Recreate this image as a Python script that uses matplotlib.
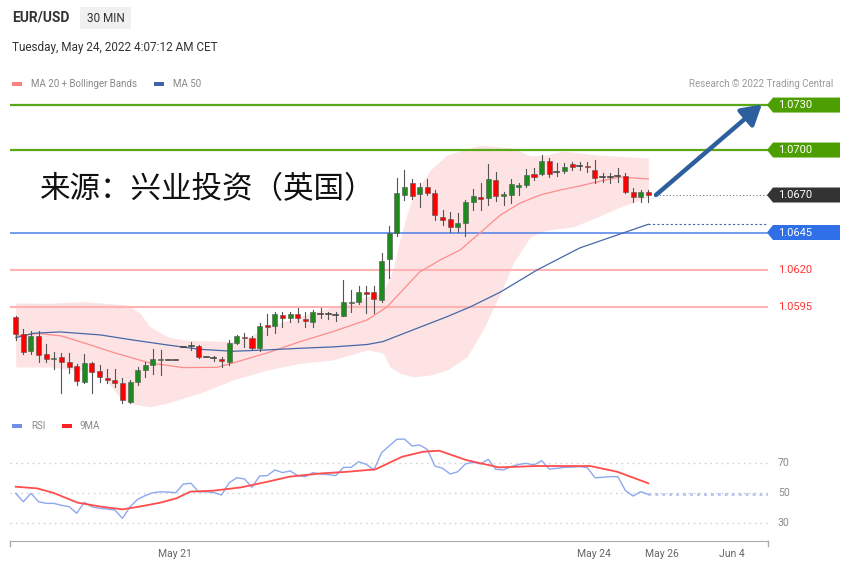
import matplotlib
matplotlib.use('Agg')
import matplotlib.pyplot as plt
from matplotlib.patches import Rectangle, Polygon, FancyArrowPatch
import matplotlib.transforms as mtransforms

plt.rcParams['font.family'] = ['Roboto', 'DejaVu Sans']

# ---------------- data ----------------
opens = [1.05885, 1.05773, 1.05662, 1.05760, 1.05638, 1.05607, 1.05622, 1.05589, 1.05560, 1.05451,
         1.05578, 1.05527, 1.05482, 1.05467, 1.05445, 1.05322, 1.05451, 1.05533, 1.05567, 1.05600,
         1.05600, 1.05600, 1.05685, 1.05693, 1.05695, 1.05618, 1.05613, 1.05605, 1.05589, 1.05711,
         1.05755, 1.05745, 1.05678, 1.05833, 1.05829, 1.05900, 1.05878, 1.05905, 1.05875, 1.05851,
         1.05907, 1.05905, 1.05900, 1.05895, 1.05982, 1.05989, 1.06055, 1.06053, 1.06000, 1.06271,
         1.06445, 1.06700, 1.06778, 1.06707, 1.06751, 1.06715, 1.06555, 1.06540, 1.06485, 1.06511,
         1.06655, 1.06689, 1.06678, 1.06803, 1.06693, 1.06700, 1.06755, 1.06767, 1.06840, 1.06843,
         1.06929, 1.06855, 1.06863, 1.06905, 1.06893, 1.06893, 1.06867, 1.06818, 1.06823, 1.06827,
         1.06830, 1.06722, 1.06687, 1.06717]
highs = [1.05890, 1.05807, 1.05795, 1.05795, 1.05707, 1.05655, 1.05649, 1.05647, 1.05573, 1.05638,
         1.05589, 1.05567, 1.05538, 1.05538, 1.05478, 1.05467, 1.05555, 1.05589, 1.05671, 1.05667,
         1.05600, 1.05600, 1.05687, 1.05718, 1.05700, 1.05618, 1.05627, 1.05622, 1.05733, 1.05767,
         1.05778, 1.05760, 1.05849, 1.05905, 1.05922, 1.05922, 1.05922, 1.05945, 1.05922, 1.05933,
         1.05945, 1.05922, 1.05922, 1.06133, 1.06067, 1.06093, 1.06093, 1.06095, 1.06311, 1.06493,
         1.06811, 1.06867, 1.06807, 1.06780, 1.06805, 1.06733, 1.06600, 1.06589, 1.06582, 1.06667,
         1.06738, 1.06778, 1.06907, 1.06853, 1.06722, 1.06805, 1.06780, 1.06873, 1.06878, 1.06967,
         1.06945, 1.06911, 1.06911, 1.06922, 1.06922, 1.06922, 1.06933, 1.06845, 1.06845, 1.06880,
         1.06849, 1.06747, 1.06733, 1.06733]
lows = [1.05733, 1.05640, 1.05638, 1.05589, 1.05587, 1.05538, 1.05382, 1.05515, 1.05433, 1.05447,
        1.05382, 1.05455, 1.05445, 1.05422, 1.05311, 1.05311, 1.05433, 1.05489, 1.05505, 1.05500,
        1.05600, 1.05600, 1.05685, 1.05667, 1.05613, 1.05618, 1.05593, 1.05551, 1.05567, 1.05707,
        1.05689, 1.05673, 1.05662, 1.05767, 1.05778, 1.05822, 1.05855, 1.05855, 1.05822, 1.05822,
        1.05878, 1.05871, 1.05860, 1.05893, 1.05922, 1.05971, 1.05911, 1.05913, 1.05989, 1.06145,
        1.06427, 1.06667, 1.06671, 1.06620, 1.06700, 1.06533, 1.06500, 1.06455, 1.06455, 1.06427,
        1.06600, 1.06600, 1.06633, 1.06657, 1.06633, 1.06645, 1.06700, 1.06753, 1.06800, 1.06833,
        1.06820, 1.06827, 1.06849, 1.06867, 1.06867, 1.06855, 1.06778, 1.06789, 1.06782, 1.06789,
        1.06711, 1.06655, 1.06655, 1.06655]
closes = [1.05771, 1.05651, 1.05762, 1.05633, 1.05609, 1.05613, 1.05587, 1.05555, 1.05460, 1.05578,
          1.05522, 1.05485, 1.05467, 1.05449, 1.05333, 1.05451, 1.05533, 1.05567, 1.05605, 1.05605,
          1.05600, 1.05600, 1.05687, 1.05695, 1.05618, 1.05618, 1.05613, 1.05593, 1.05711, 1.05760,
          1.05745, 1.05682, 1.05827, 1.05818, 1.05905, 1.05878, 1.05907, 1.05878, 1.05860, 1.05918,
          1.05907, 1.05905, 1.05900, 1.05989, 1.05989, 1.06055, 1.06040, 1.06007, 1.06262, 1.06445,
          1.06711, 1.06755, 1.06695, 1.06755, 1.06711, 1.06567, 1.06533, 1.06485, 1.06515, 1.06655,
          1.06693, 1.06673, 1.06805, 1.06693, 1.06705, 1.06771, 1.06767, 1.06835, 1.06817, 1.06929,
          1.06843, 1.06855, 1.06887, 1.06889, 1.06893, 1.06885, 1.06811, 1.06818, 1.06823, 1.06827,
          1.06718, 1.06687, 1.06722, 1.06700]

ma20_bar = [0, 3, 6, 9, 13, 17.6, 22, 26.4, 28.5, 33, 37.3, 41.6, 46.1, 48.7, 53, 55.7, 58.3, 60.9, 63.6, 66.2, 68.8, 71.4, 74, 76.7, 79.3, 83]
ma20_val = [1.05760, 1.05777, 1.05760, 1.05713, 1.05647, 1.05580, 1.05549, 1.05551, 1.05580, 1.05647, 1.05722, 1.05789, 1.05867, 1.05953,
            1.06187, 1.06267, 1.06333, 1.06447, 1.06567, 1.06647, 1.06700, 1.06733, 1.06760, 1.06793, 1.06820, 1.06807]

ma50_bar = [0, 2.3, 5.8, 11.1, 15.4, 19.9, 24.2, 28.5, 33, 37.3, 41.6, 46.1, 48.2, 52.1, 56.6, 59.6, 63.6, 68.4, 74, 79.7, 83]
ma50_val = [1.05749, 1.05778, 1.05787, 1.05767, 1.05733, 1.05700, 1.05671, 1.05658, 1.05667, 1.05678, 1.05687, 1.05703, 1.05723,
            1.05800, 1.05889, 1.05953, 1.06053, 1.06200, 1.06347, 1.06447, 1.06505]

bb_up_bar = [0, 4.5, 8.8, 14.6, 16.3, 17.6, 19.9, 22, 28.5, 30.7, 33, 37.3, 41.6, 46.1, 48.2, 49.5, 50.4, 51.3, 52.1, 54.4, 56.6,
             60.9, 65.3, 67.5, 69.7, 71.8, 76.3, 83]
bb_up_val = [1.05980, 1.05978, 1.05989, 1.05967, 1.05913, 1.05822, 1.05755, 1.05733, 1.05722, 1.05755, 1.05822, 1.05889, 1.05955,
             1.06022, 1.06053, 1.06200, 1.06400, 1.06567, 1.06687, 1.06867, 1.06967, 1.07033, 1.07013, 1.06960, 1.06967, 1.06993,
             1.06967, 1.06947]

bb_lo_bar = [0, 4.5, 11.1, 12.4, 13.7, 15.4, 17.6, 19.9, 24.2, 28.5, 33, 37.3, 41.6, 46.1, 48.2, 49.1, 50.4, 52.1, 54.4, 56.6,
             59.2, 61.3, 63.6, 65.3, 67.5, 69.7, 73.1, 76.3, 79.3, 83]
bb_lo_val = [1.05553, 1.05553, 1.05513, 1.05433, 1.05347, 1.05307, 1.05287, 1.05313, 1.05380, 1.05467, 1.05533, 1.05578, 1.05600,
             1.05667, 1.05647, 1.05553, 1.05513, 1.05487, 1.05500, 1.05533, 1.05620, 1.05800, 1.06047, 1.06247, 1.06420, 1.06467,
             1.06487, 1.06553, 1.06620, 1.06687]

rsi = [50, 44.4, 50, 44.4, 43.3, 43.3, 42, 41.1, 36.7, 44, 41, 40, 39.5, 38.9, 33.3, 41, 46, 48.5, 50.4, 51,
       50.8, 50.4, 56.2, 56.7, 51, 51, 50.5, 48.9, 57, 60.4, 59.6, 54, 61.6, 61.8, 65.6, 63.8, 64.9, 61.8, 61.1, 63.8,
       62.9, 62.5, 61.8, 67.3, 67.3, 71.1, 69.3, 65.6, 77.1, 81.6, 86, 86.2, 81.6, 82.2, 79.3, 68.2, 66.7, 62.9, 64.4, 69.6,
       70.7, 69.6, 72.7, 66, 65.6, 67.8, 69.3, 70, 68.9, 71.8, 66.2, 66.7, 67.3, 67.5, 67.8, 67.1, 60.4, 60.7, 61.1, 61.1,
       51.8, 48.2, 51.1, 49.3]
rsi_ma_bar = [0, 2.8, 4.9, 8.1, 11.2, 14, 16.2, 19, 21.1, 22.9, 26, 29.6, 33.1, 35.9, 40.1, 43.6, 47.2, 50.7, 53.5, 55.6, 59.1,
              63.4, 68.3, 71.8, 75.4, 78.9, 83]
rsi_ma_val = [54.4, 53.3, 50.4, 43.8, 41.1, 39.3, 41.1, 43.8, 46.7, 51.1, 51.8, 54, 57.8, 61.1, 63.3, 64.4, 66, 74.4, 77.8, 78.4,
              72.2, 67.3, 68.2, 68.2, 68.2, 64.4, 56.7]

levels_res = [1.0730, 1.0700]
level_price = 1.0670
level_pivot = 1.0645
levels_sup = [1.0620, 1.0595]
ma50_last = 1.06505
target = (97.9, 1.07305)
date_ticks = [20.9, 75.9, 84.8, 94.0]
date_labels = ['May 21', 'May 24', 'May 26', 'Jun 4']

# ---------------- figure ----------------
W, H = 842, 568
fig = plt.figure(figsize=(W / 100, H / 100), dpi=100)
fig.patch.set_facecolor('white')


def fx(x):
    return x / W


def fy(y):
    return 1 - y / H


XL = (-0.75, 98.7)
ax = fig.add_axes([fx(10), fy(412), (768 - 10) / W, (412 - 95) / H])
ax.set_xlim(*XL)
ax.set_ylim(1.05253, 1.07367)
ax.axis('off')

# Bollinger band
import numpy as np
bx = np.linspace(0, 83, 300)
up = np.interp(bx, bb_up_bar, bb_up_val)
lo = np.interp(bx, bb_lo_bar, bb_lo_val)
ax.fill_between(bx, lo, up, color='#fde3e3', lw=0, zorder=1)

# Levels
for lv in levels_res:
    ax.axhline(lv, color='#5aa815', lw=1.6, zorder=2)
ax.axhline(level_pivot, color='#4a80e8', lw=1.1, zorder=2)
for lv in levels_sup:
    ax.axhline(lv, color='#ffb3b3', lw=1.5, zorder=2)

# MAs
ax.plot(ma20_bar, ma20_val, color='#ff8c8c', lw=0.9, zorder=3)
ax.plot(ma50_bar, ma50_val, color='#4668a8', lw=0.9, zorder=3)
ax.plot([83, XL[1]], [ma50_last, ma50_last], color='#4668a8', lw=0.8, ls=(0, (2, 2)), zorder=3)
ax.plot([84, XL[1]], [level_price, level_price], color='#777777', lw=0.8, ls=(0, (1, 2)), zorder=3)

# Candles
bw = 0.66
for i, (o, h, l, c) in enumerate(zip(opens, highs, lows, closes)):
    if h > l:
        ax.plot([i, i], [l, h], color='#555555', lw=0.8, zorder=4)
    if abs(c - o) < 0.00004:
        ax.plot([i - bw / 2, i + bw / 2], [(o + c) / 2] * 2, color='#444444', lw=1.2, zorder=5)
    else:
        col = '#1e8a1e' if c > o else '#ff0000'
        ax.add_patch(Rectangle((i - bw / 2, min(o, c)), bw, abs(c - o), facecolor=col,
                               edgecolor='#555555', lw=0.4, zorder=5))

# Arrow
arr = FancyArrowPatch((84.0, level_price), target, arrowstyle='-|>,head_length=0.6,head_width=0.35',
                      mutation_scale=20, color='#2d5f9e', lw=3.2, shrinkA=0, shrinkB=0, zorder=6)
ax.add_artist(arr)

# Level labels
bt = mtransforms.blended_transform_factory(fig.transFigure, ax.transData)
hh = 0.0005


def box_label(p, txt, fc):
    pts = [(fx(767), p), (fx(773), p + hh), (fx(840), p + hh), (fx(840), p - hh), (fx(773), p - hh)]
    fig.patches.append(Polygon(pts, closed=True, facecolor=fc, edgecolor='none', transform=bt, figure=fig))
    fig.text(fx(778), p, txt, transform=bt, color='white', fontsize=8, va='center', ha='left')


box_label(levels_res[0], '%.4f' % levels_res[0], '#4d9e00')
box_label(levels_res[1], '%.4f' % levels_res[1], '#4d9e00')
box_label(level_price, '%.4f' % level_price, '#333333')
box_label(level_pivot, '%.4f' % level_pivot, '#2f6fe8')
for lv in levels_sup:
    fig.text(fx(778), lv, '%.4f' % lv, transform=bt, color='#ff3333', fontsize=8, va='center', ha='left')

# Watermark-like source text
fig.text(fx(40), fy(190), '来源：兴业投资（英国）', fontsize=22, color='#111111',
         family=['Noto Sans CJK SC', 'DejaVu Sans'], va='center', ha='left')

# Header
fig.text(fx(12), fy(18), 'EUR/USD', fontsize=10, weight='bold', color='#333333', va='center')
fig.patches.append(Rectangle((fx(80), fy(29)), fx(51), 22 / H, transform=fig.transFigure,
                             facecolor='#f0f0f0', edgecolor='none', figure=fig))
fig.text(fx(87), fy(18), '30 MIN', fontsize=8.5, color='#333333', va='center')
fig.text(fx(12), fy(47), 'Tuesday, May 24, 2022 4:07:12 AM CET', fontsize=8.5, color='#333333', va='center')


def swatch(x, y, col):
    fig.patches.append(Rectangle((fx(x), fy(y + 2)), fx(10), 4 / H, transform=fig.transFigure,
                                 facecolor=col, edgecolor='none', figure=fig))


swatch(12, 84, '#ff8080')
fig.text(fx(31), fy(84), 'MA 20 + Bollinger Bands', fontsize=7, color='#888888', va='center')
swatch(154, 84, '#3d64a8')
fig.text(fx(173), fy(84), 'MA 50', fontsize=7, color='#888888', va='center')
fig.text(fx(833), fy(84), 'Research © 2022 Trading Central', fontsize=7, color='#999999', va='center', ha='right')

# RSI panel
rax = fig.add_axes([fx(10), fy(541), (768 - 10) / W, (541 - 435) / H])
rax.set_xlim(*XL)
rax.set_ylim(18.2, 88.9)
for s in ['top', 'left', 'right']:
    rax.spines[s].set_visible(False)
rax.spines['bottom'].set_color('#aaaaaa')
rax.set_yticks([])
for g in [30, 50, 70]:
    rax.plot(XL, [g, g], color='#cccccc', lw=1, ls=(0, (1, 3)), zorder=1)
    fig.text(fx(778), 0, str(g), transform=mtransforms.blended_transform_factory(fig.transFigure, rax.transData),
             fontsize=7.5, color='#888888', va='center')
    fig.texts[-1].set_y(g)
rax.plot(range(len(rsi)), rsi, color='#8ea8ef', lw=1, zorder=3)
rax.plot(rsi_ma_bar, rsi_ma_val, color='#ff4d4d', lw=1.3, zorder=3)
rax.plot([len(rsi) - 1, XL[1]], [rsi[-1], rsi[-1]], color='#b4c4f2', lw=2, ls=(0, (1, 1.5)), zorder=2)
rax.set_xticks(date_ticks)
rax.set_xticklabels(date_labels, fontsize=7.5, color='#666666')
rax.tick_params(axis='x', length=0, pad=6)
for x in [10, 768]:
    fig.lines.append(plt.Line2D([fx(x), fx(x)], [fy(541), fy(546)], transform=fig.transFigure, color='#aaaaaa', lw=1))

swatch(12, 426, '#6f8fe8')
fig.text(fx(31), fy(426), 'RSI', fontsize=7, color='#888888', va='center')
swatch(62, 426, '#ff2020')
fig.text(fx(80), fy(426), '9MA', fontsize=7, color='#888888', va='center')

fig.savefig('out.png', dpi=100)
